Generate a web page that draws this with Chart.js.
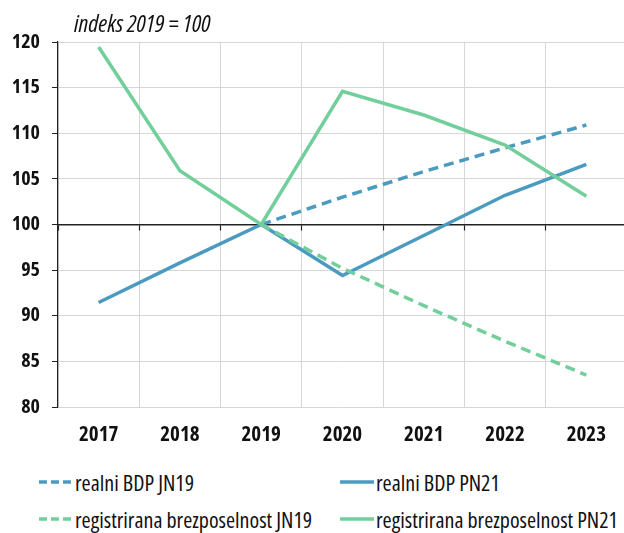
<!DOCTYPE html>
<html>
<head>
<meta charset="utf-8">
<script src="https://cdn.jsdelivr.net/npm/chart.js@4/dist/chart.umd.min.js"></script>
<style>
  html, body { margin: 0; padding: 0; background: #fff; overflow: hidden; width: 624px; height: 533px; }
  #wrap { position: relative; width: 624px; height: 533px; overflow: hidden; }
  #c { position: absolute; left: 0; top: 0; }
  #title { position: absolute; left: 74px; top: 8px; font-family: 'Open Sans', sans-serif; font-stretch: condensed; font-style: italic; font-weight: 500; font-size: 24px; color: #111; white-space: nowrap; line-height: 30px; }
  .leg { position: absolute; font-family: 'Open Sans', sans-serif; font-stretch: condensed; font-weight: 500; font-size: 22px; color: #111; white-space: nowrap; display: flex; align-items: center; height: 28px; line-height: 28px; }
  .leg svg { margin-right: 2px; }
</style>
</head>
<body>
<div id="wrap">
  <canvas id="c" width="630" height="460" style="width:630px;height:460px"></canvas>
  <div id="title">indeks 2019 = 100</div>
  <div id="legend"></div>
</div>
<script>
const years = ['2017', '2018', '2019', '2020', '2021', '2022', '2023'];
const bdpJN19 = [null, null, 100, 103.0, 105.8, 108.4, 110.9];
const bdpPN21 = [91.45, 95.8, 100, 94.4, 98.8, 103.2, 106.6];
const brezJN19 = [null, null, 100, 95.2, 91.1, 87.2, 83.5];
const brezPN21 = [119.45, 105.9, 100, 114.6, 112.0, 108.7, 103.1];
const seriesNames = ['realni BDP JN19', 'realni BDP PN21', 'registrirana brezposelnost JN19', 'registrirana brezposelnost PN21'];
const yTicks = [80, 85, 90, 95, 100, 105, 110, 115, 120];

const BLUE = '#4b9abf';
const GREEN = '#72cf9c';
const FAMILY = "'Open Sans', sans-serif";

const datasets = [
  { label: seriesNames[0], data: bdpJN19, borderColor: BLUE, borderDash: [10, 6], order: 3 },
  { label: seriesNames[1], data: bdpPN21, borderColor: BLUE, borderDash: [], order: 2 },
  { label: seriesNames[2], data: brezJN19, borderColor: GREEN, borderDash: [10, 6], order: 1 },
  { label: seriesNames[3], data: brezPN21, borderColor: GREEN, borderDash: [], order: 0 }
].map(d => Object.assign(d, { borderWidth: 3.5, pointRadius: 0, tension: 0, fill: false, spanGaps: false, borderCapStyle: 'butt' }));

const xTickFont = { family: FAMILY, size: 21, weight: 'bold condensed' };
const yTickFont = { family: FAMILY, size: 20, weight: 'bold condensed' };

const chart = new Chart(document.getElementById('c'), {
  type: 'line',
  data: { labels: years, datasets },
  options: {
    responsive: false,
    animation: false,
    layout: { padding: { top: 42, right: 3, left: 0, bottom: 0 } },
    plugins: { legend: { display: false }, tooltip: { enabled: false }, title: { display: false } },
    scales: {
      x: {
        type: 'category',
        position: 'bottom',
        offset: true,
        grid: { offset: true, color: '#d6d6d6', lineWidth: 1, drawTicks: false },
        border: { display: false },
        ticks: { font: xTickFont, color: '#111', padding: 15, maxRotation: 0, autoSkip: false },
        afterFit: s => { s.height = 53; }
      },
      x2: {
        type: 'category',
        axis: 'x',
        position: { y: 100 },
        offset: true,
        grid: { offset: true, drawOnChartArea: false, drawTicks: true, tickLength: 5, tickColor: '#222', tickWidth: 1.2 },
        border: { display: true, color: '#222', width: 1.5 },
        ticks: { display: false }
      },
      y: {
        min: 80, max: 120,
        afterBuildTicks: s => { s.ticks = yTicks.map(v => ({ value: v })); },
        grid: { color: '#d6d6d6', lineWidth: 1, drawTicks: true, tickLength: 6, tickColor: '#222' },
        border: { display: true, color: '#222', width: 1.2 },
        ticks: { font: yTickFont, color: '#111', padding: 12 },
        afterFit: s => { s.width = 58; }
      }
    }
  }
});

// HTML legend built from chart datasets
const legendPos = [[39, 468], [340, 468], [39, 505], [340, 505]];
const legendEl = document.getElementById('legend');
chart.data.datasets.forEach((ds, i) => {
  const div = document.createElement('div');
  div.className = 'leg';
  div.style.left = legendPos[i][0] + 'px';
  div.style.top = legendPos[i][1] + 'px';
  const dash = ds.borderDash && ds.borderDash.length ? 'stroke-dasharray="8 4"' : '';
  div.innerHTML = '<svg width="34" height="8"><line x1="0" y1="4" x2="34" y2="4" stroke="' + ds.borderColor + '" stroke-width="3.5" ' + dash + '/></svg><span>' + ds.label + '</span>';
  legendEl.appendChild(div);
});
</script>
</body>
</html>
